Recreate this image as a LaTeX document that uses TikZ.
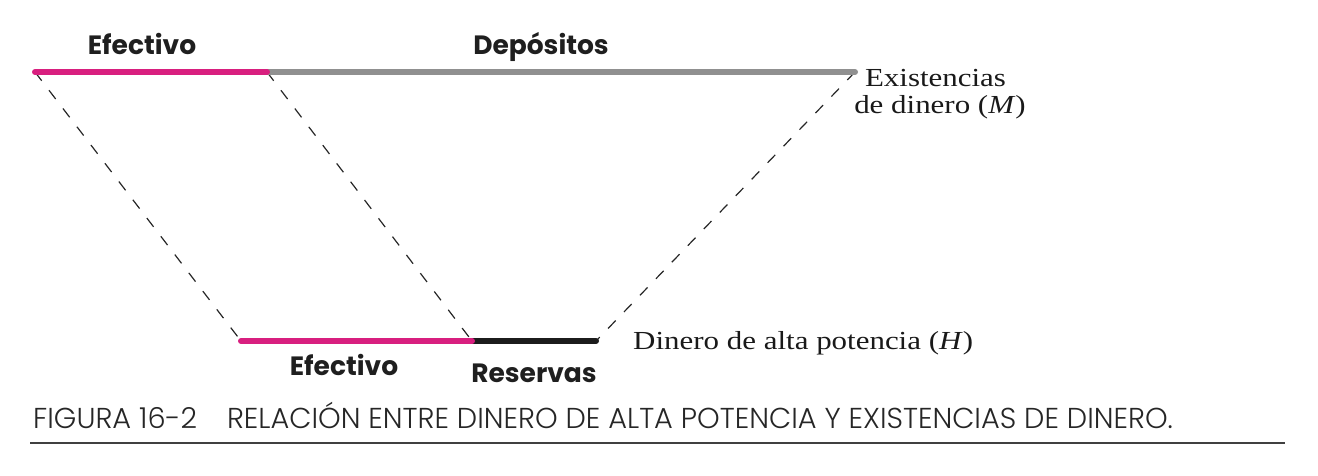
\documentclass[tikz,border=0pt]{standalone}
\usepackage{fontspec}
\setmainfont{Liberation Serif}
\newfontfamily\labfont{Poppins}
\newfontfamily\capfont{Poppins Light}
\definecolor{pinkbar}{HTML}{D81F7F}
\definecolor{graybar}{HTML}{909090}
\definecolor{darkbar}{HTML}{1C1C1C}
\begin{document}
\begin{tikzpicture}[x=1pt,y=-1pt,
  bar/.style={line width=6pt},
  conn/.style={line width=1.2pt, dash pattern=on 11pt off 12pt, black!85},
  boldlab/.style={font=\labfont\bfseries\fontsize{26.5}{28}\selectfont, anchor=base, inner sep=0pt, text=black!88},
  serlab/.style={font=\fontsize{26}{28}\selectfont, inner sep=0pt, text=black!90, anchor=base, xscale=1.19},
  caplab/.style={font=\capfont\fontsize{28.8}{30}\selectfont, anchor=base west, inner sep=0pt, text=black!85}]
\useasboundingbox (0,0) rectangle (1318,476);
% coordinates
\coordinate (mL) at (35,72);
\coordinate (mM) at (267,72);
\coordinate (mR) at (855,72);
\coordinate (hL) at (241,341);
\coordinate (hM) at (472,341);
\coordinate (hR) at (596,341);
% dashed connectors
\draw[conn] (mL) -- (hL);
\draw[conn] (mM) -- (hM);
\draw[conn] (mR) -- (hR);
% bars
\draw[bar, graybar, line cap=round] (mM) -- (mR);
\draw[bar, pinkbar, line cap=round] (mL) -- (mM);
\draw[bar, darkbar, line cap=round] (hM) -- (hR);
\draw[bar, pinkbar, line cap=round] (hL) -- (hM);
% labels
\node[boldlab] (tefe) at (142,55) {Efectivo};
\node[boldlab] (tdep) at (541,55) {Depósitos};
\node[boldlab] (befe) at (344,375) {Efectivo};
\node[boldlab] (bres) at (534,382) {Reservas};
\node[serlab] (mlab1) at (935.5,87) {Existencias};
\node[serlab] (mlab2) at (940,114) {de dinero (\textit{M})};
\node[serlab, anchor=base west] (hlab) at (633,349) {Dinero de alta potencia (\textit{H})};
\node[caplab] (cap) at (33,428) {FIGURA 16-2\hspace{30pt}RELACIÓN ENTRE DINERO DE ALTA POTENCIA Y EXISTENCIAS DE DINERO.};
\draw[line width=2pt, black!75] (30,443) -- (1285,443);
\end{tikzpicture}
\end{document}
